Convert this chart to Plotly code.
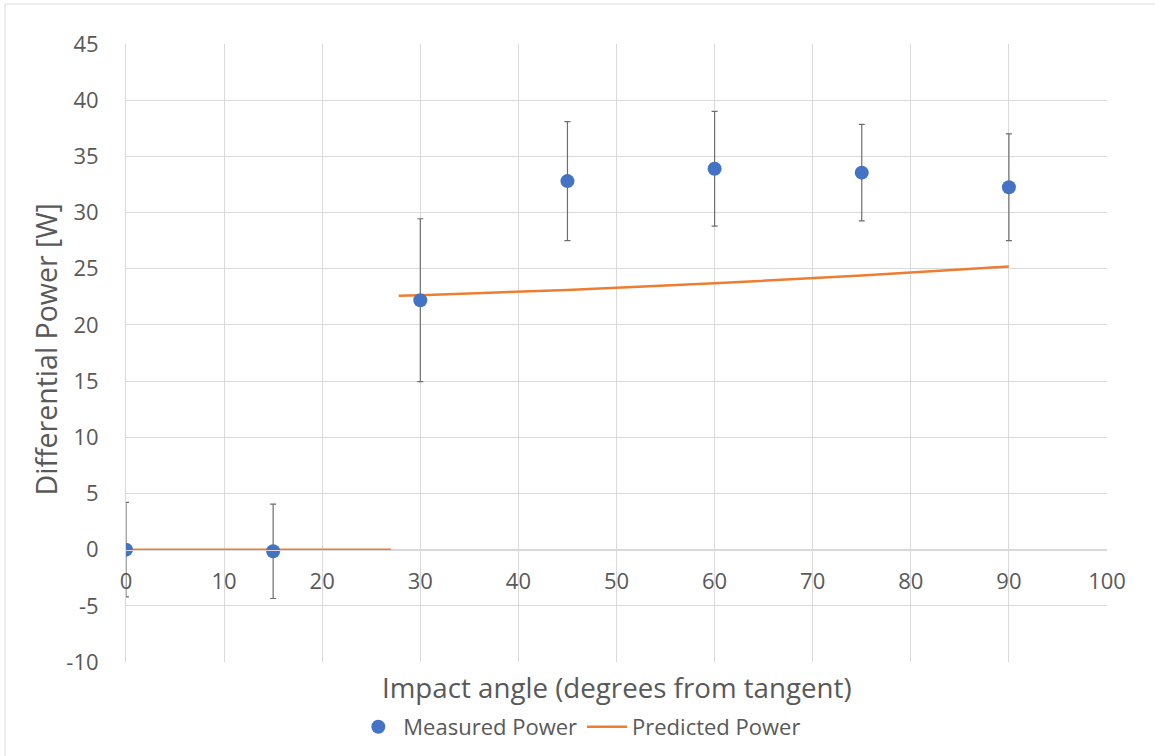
import plotly.graph_objects as go

# Measured differential power with error bars
angles = [0, 15, 30, 45, 60, 75, 90]
measured = [0.0, -0.15, 22.2, 32.8, 33.9, 33.55, 32.25]
measured_err = [4.2, 4.2, 7.25, 5.3, 5.1, 4.3, 4.75]

# Predicted power: zero below the threshold angle, then a gentle rise
pred_low_x = [0, 27]
pred_low_y = [0, 0]
pred_high_x = [27.8, 30, 45, 60, 75, 90]
pred_high_y = [22.6, 22.65, 23.1, 23.7, 24.4, 25.2]

x_ticks = [0, 10, 20, 30, 40, 50, 60, 70, 80, 90, 100]
y_ticks = [-10, -5, 0, 5, 10, 15, 20, 25, 30, 35, 40, 45]
y_tick_text = ["-10", "-5", "0", "5", "10", "15", "20", "25", "30", "35", "40", "45"]

FONT = "Open Sans"
TEXT = "#595959"
GRID = "#D9D9D9"

fig = go.Figure()

fig.add_trace(go.Scatter(
    x=pred_low_x + [None] + pred_high_x,
    y=pred_low_y + [None] + pred_high_y,
    mode="lines",
    name="Predicted Power",
    line=dict(color="#ED7D31", width=2.5),
    connectgaps=False,
    legendrank=2,
))

fig.add_trace(go.Scatter(
    x=angles,
    y=measured,
    mode="markers",
    name="Measured Power",
    marker=dict(color="#4472C4", size=14, line=dict(width=0)),
    error_y=dict(type="data", array=measured_err, visible=True,
                 color="#6E6E6E", thickness=1.2, width=3),
    legendrank=1,
))

y_min, y_max = -10, 45
zero_frac = (0 - y_min) / (y_max - y_min)

fig.update_layout(
    width=1155, height=756,
    margin=dict(l=126, r=48, t=44, b=94),
    paper_bgcolor="white",
    plot_bgcolor="white",
    font=dict(family=FONT, color=TEXT, size=22),
    showlegend=True,
    legend=dict(
        orientation="h",
        xref="container", yref="container",
        x=0.502, xanchor="center",
        y=1 - 727 / 756, yanchor="middle",
        font=dict(size=22, color=TEXT),
        itemwidth=40,
        tracegroupgap=0,
    ),
    xaxis=dict(
        range=[0, 100],
        tickvals=x_ticks,
        showgrid=True, gridcolor=GRID, gridwidth=1,
        zeroline=False,
        showline=True, linecolor=GRID, linewidth=1,
        anchor="free", position=zero_frac,
        ticks="", ticklabelstandoff=12,
        tickfont=dict(size=22, color=TEXT),
        automargin=False,
    ),
    yaxis=dict(
        range=[y_min, y_max],
        tickvals=y_ticks,
        ticktext=y_tick_text,
        showgrid=True, gridcolor=GRID, gridwidth=1,
        zeroline=False,
        showline=True, linecolor=GRID, linewidth=1,
        ticks="", ticklabelstandoff=22,
        tickfont=dict(size=22, color=TEXT),
        automargin=False,
    ),
    annotations=[
        dict(text="Impact angle (degrees from tangent)", xref="paper", yref="paper",
             x=0.5, y=-0.0405, xanchor="center", yanchor="middle", showarrow=False,
             font=dict(size=27.7, color=TEXT)),
        dict(text="Differential Power [W]", xref="paper", yref="paper",
             x=-0.082, y=0.505, xanchor="center", yanchor="middle", showarrow=False,
             textangle=-90, font=dict(size=28.5, color=TEXT)),
    ],
    shapes=[
        dict(type="rect", xref="paper", yref="paper",
             x0=-0.1233, x1=1.2, y0=-0.3, y1=1.0647,
             line=dict(color=GRID, width=1), fillcolor="rgba(0,0,0,0)", layer="below"),
    ],
)

fig.write_html("out.html")
